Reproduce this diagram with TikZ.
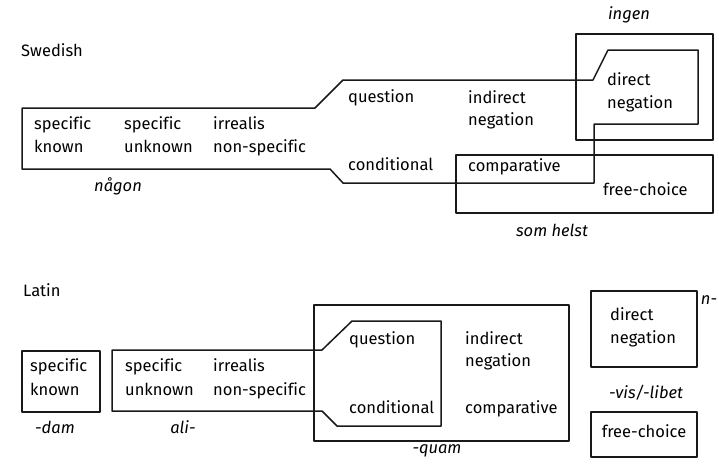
\documentclass[tikz,border=0pt]{standalone}
\usepackage{fontspec}
\setmainfont[Ligatures={NoCommon}]{Fira Sans}
\begin{document}
\begin{tikzpicture}[x=1pt,y=-1pt,
  lbl/.style={anchor=west,inner sep=0pt,font=\fontsize{16.5}{19}\selectfont,text height=0.7em,text depth=0.2em},
  clbl/.style={lbl,anchor=center,font=\fontsize{16.5}{19}\selectfont\itshape},
  boxline/.style={draw=black!90,line width=1.5pt,line join=round}]
\useasboundingbox (0,0) rectangle (719,463);
% ---------- Swedish ----------
\node[lbl] (sw) at (21,54) {Swedish};
\node[lbl] (s1a) at (34,127) {specific};
\node[lbl] (s1b) at (34,150) {known};
\node[lbl] (s2a) at (124,127) {specific};
\node[lbl] (s2b) at (124,150) {unknown};
\node[lbl] (s3a) at (213,127) {irrealis};
\node[lbl] (s3b) at (213,150) {non-specific};
\node[lbl] (sq) at (348,100) {question};
\node[lbl] (sc) at (348,168) {conditional};
\node[lbl] (sia) at (468,101) {indirect};
\node[lbl] (sib) at (468,123) {negation};
\node[lbl] (scmp) at (468,169) {comparative};
\node[lbl] (sda) at (607,83) {direct};
\node[lbl] (sdb) at (607,106) {negation};
\node[lbl] (sfc) at (603,193) {free-choice};
\node[clbl] (nagon) at (118,189) {någon};
\node[clbl] (ingen) at (629,17) {ingen};
\node[clbl] (somhelst) at (552,234) {som helst};
\draw[boxline] (22,108) -- (315,108) -- (343,80) -- (593,80) -- (608,50) -- (698,50) -- (698,124) -- (594,124) -- (594,183) -- (343,183) -- (330,169) -- (22,169) -- cycle;
\draw[boxline] (576,34) rectangle (713,140);
\draw[boxline] (456,155) rectangle (713,213);
% ---------- Latin ----------
\node[lbl] (la) at (23,294) {Latin};
\node[lbl] (l1a) at (30,369) {specific};
\node[lbl] (l1b) at (30,393) {known};
\node[lbl] (l2a) at (125,369) {specific};
\node[lbl] (l2b) at (125,393) {unknown};
\node[lbl] (l3a) at (213,369) {irrealis};
\node[lbl] (l3b) at (213,393) {non-specific};
\node[lbl] (lq) at (349,342) {question};
\node[lbl] (lc) at (349,411) {conditional};
\node[lbl] (lia) at (465,342) {indirect};
\node[lbl] (lib) at (465,364) {negation};
\node[lbl] (lcmp) at (465,411) {comparative};
\node[lbl] (lda) at (610,318) {direct};
\node[lbl] (ldb) at (610,341) {negation};
\node[lbl,anchor=center] (lfc) at (644,435) {free-choice};
\node[clbl] (dam) at (55,431) {-dam};
\node[clbl] (ali) at (183,431) {ali-};
\node[clbl] (quam) at (437,451) {-quam};
\node[clbl] (nn) at (709,302) {n-};
\node[clbl] (vis) at (646,396) {-vis/-libet};
\draw[boxline] (22,351) rectangle (100,412);
\draw[boxline] (112,350) -- (322,350) -- (352,321) -- (441,321) -- (441,426) -- (337,426) -- (322,411) -- (112,411) -- cycle;
\draw[boxline] (314,305) rectangle (569,441);
\draw[boxline] (591,291) rectangle (697,367);
\draw[boxline] (591,412) rectangle (697,457);
\end{tikzpicture}
\end{document}
